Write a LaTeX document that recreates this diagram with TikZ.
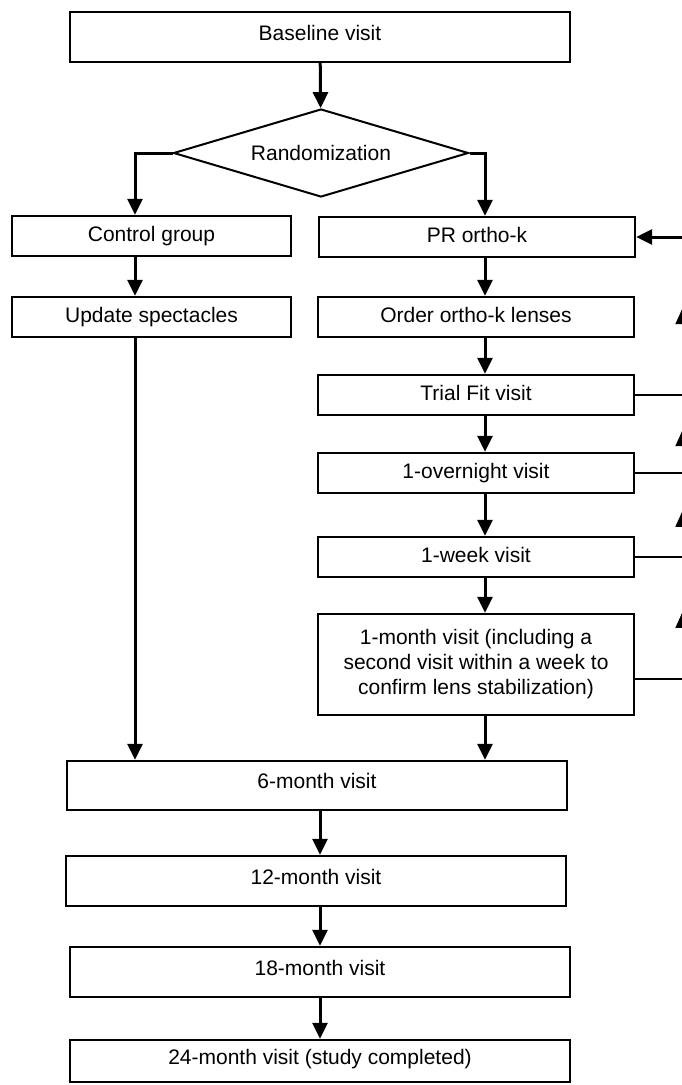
\documentclass[tikz,border=0pt]{standalone}
\usepackage{fontspec}
\setmainfont{Liberation Sans}
\usepackage{tikz}
\usetikzlibrary{arrows.meta,shapes,positioning,decorations.markings}
\tikzstyle{arrow} = [line width=3pt,-{Triangle[length=16pt,width=15pt]}]
\tikzstyle{visitbox} = [rectangle, draw, line width=2.4pt, inner sep=0pt, text centered, minimum height=40pt, text height=15pt, text depth=4pt]
\tikzstyle{bigbox} = [visitbox, minimum width=500pt, minimum height=50pt, text depth=9pt]
\tikzstyle{fbline} = [line width=1.8pt]
\tikzstyle{rail} = [line width=1.5pt, postaction={decorate}, decoration={markings, mark=at position 0.55 with {\arrow{Triangle[length=16pt,width=14pt]}}}]

\begin{document}
\begin{tikzpicture}[x=1pt, y=-1pt, font=\fontsize{21}{25}\selectfont]
\useasboundingbox (0,0) rectangle (682,1085);

% Columns for the arrows
\coordinate (lcol) at (135,0);
\coordinate (mcol) at (320,0);
\coordinate (rcol) at (485,0);

% Baseline and randomization
\node (base) [bigbox] at (320,37) {Baseline visit};
\node (rand) [diamond, draw, line width=2pt, inner sep=0pt, aspect=3.3, minimum width=295pt, minimum height=88pt] at (321,153) {Randomization};

% Control group at left
\node (ctrl) [visitbox, minimum width=279pt] at (151.5,236) {Control group};
\node (upd) [visitbox, minimum width=279pt] at (151.5,317) {Update spectacles};

% Ortho-k group at right
\node (pr) [visitbox, minimum width=316pt] at (477,237) {PR ortho-k};
\node (order) [visitbox, minimum width=316pt] at (476,317) {Order ortho-k lenses};
\node (trial) [visitbox, minimum width=316pt] at (476,395) {Trial Fit visit};
\node (night) [visitbox, minimum width=316pt] at (476,473) {1-overnight visit};
\node (week) [visitbox, minimum width=316pt] at (476,557) {1-week visit};
\node (month) [rectangle, draw, line width=2.4pt, inner sep=0pt, align=center, minimum width=316pt, minimum height=101pt] at (476,664.5) {1-month visit (including a\\ second visit within a week to\\ confirm lens stabilization)};

% Follow-up visits
\node (six) [bigbox, minimum height=49pt] at (317,785.5) {6-month visit};
\node (twelve) [bigbox] at (316,881) {12-month visit};
\node (eighteen) [bigbox] at (320,972) {18-month visit};
\node (final) [bigbox, minimum height=42pt] at (320,1061) {24-month visit (study completed)};

% Loop back to PR ortho-k
\coordinate (fb1) at (682.5,237);
\coordinate (fb2) at (682.5,395);
\coordinate (fb3) at (682.5,473);
\coordinate (fb4) at (682.5,557);
\coordinate (fb5) at (682.5,679);

% Connections
\draw[arrow] (base) -- (rand);
\draw[arrow] (rand.west) -| (ctrl.north -| lcol);
\draw[arrow] (rand.east) -| (pr.north -| rcol);
\draw[arrow] (ctrl.south -| lcol) -- (upd.north -| lcol);
\draw[arrow] (upd.south -| lcol) -- (six.north -| lcol);
\draw[arrow] (pr.south -| rcol) -- (order.north -| rcol);
\draw[arrow] (order.south -| rcol) -- (trial.north -| rcol);
\draw[arrow] (trial.south -| rcol) -- (night.north -| rcol);
\draw[arrow] (night.south -| rcol) -- (week.north -| rcol);
\draw[arrow] (week.south -| rcol) -- (month.north -| rcol);
\draw[arrow] (month.south -| rcol) -- (six.north -| rcol);
\draw[arrow] (six.south -| mcol) -- (twelve.north -| mcol);
\draw[arrow] (twelve.south -| mcol) -- (eighteen.north -| mcol);
\draw[arrow] (eighteen.south -| mcol) -- (final.north -| mcol);

% Feedback lines
\draw[fbline] (trial) -- (fb2);
\draw[fbline] (night) -- (fb3);
\draw[fbline] (week) -- (fb4);
\draw[fbline] (month.east |- fb5) -- (fb5);
\draw[rail] (fb5) -- (fb4);
\draw[rail] (fb4) -- (fb3);
\draw[rail] (fb3) -- (fb2);
\draw[rail] (fb2) -- (fb1);
\draw[arrow] (fb1) -- (pr);
\end{tikzpicture}
\end{document}
